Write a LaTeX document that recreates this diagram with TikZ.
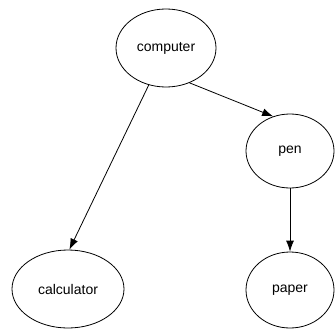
\documentclass[tikz,border=0pt]{standalone}
\usepackage{fontspec}
\setmainfont{Liberation Sans}
\usetikzlibrary{arrows.meta,shapes.geometric}
\begin{document}
\begin{tikzpicture}[x=1pt,y=-1pt,
  nd/.style={draw,ellipse,line width=0.8pt,inner sep=0pt,font=\fontsize{14}{16}\selectfont},
  ar/.style={-{Latex[length=11pt,width=8pt]},line width=0.8pt}]
\useasboundingbox (0,0) rectangle (336,329);
\node[nd,minimum width=100pt,minimum height=78pt] (computer) at (166,48) {computer};
\node[nd,minimum width=88pt,minimum height=74pt] (pen) at (290,151) {pen};
\node[nd,minimum width=112pt,minimum height=78pt] (calculator) at (68,289) {calculator};
\node[nd,minimum width=88pt,minimum height=76pt] (paper) at (290,290) {paper};
\draw[ar] (computer.245) -- (calculator.88);
\draw[ar] (computer.304) -- (pen.116);
\draw[ar] (pen) -- (paper);
\end{tikzpicture}
\end{document}
